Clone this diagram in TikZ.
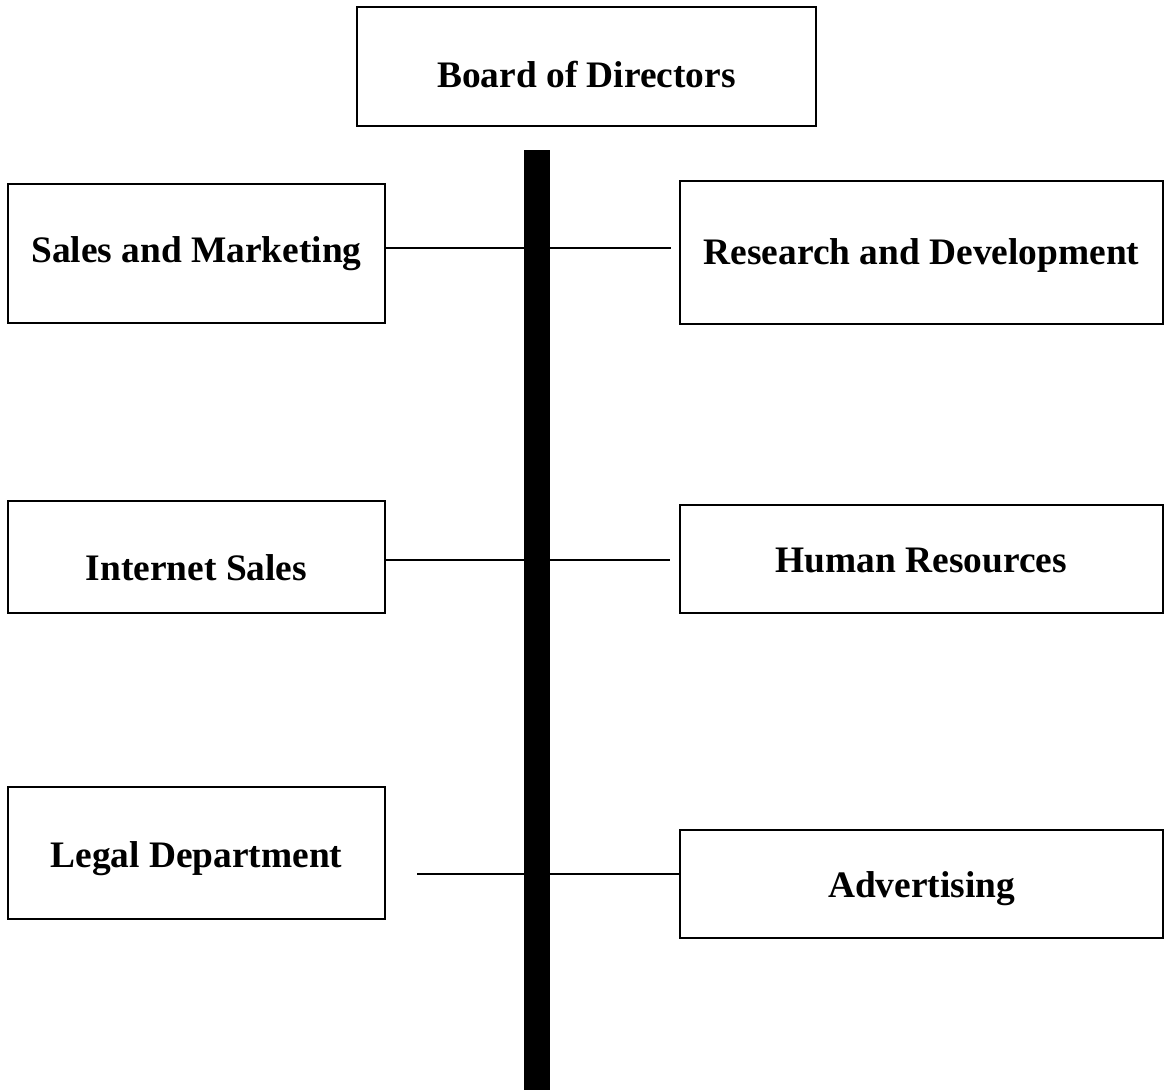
\documentclass[tikz,border=0pt]{standalone}
\usepackage{fontspec}
\setmainfont{Liberation Serif}
\usepackage{tikz}

\begin{document}
\begin{tikzpicture}[x=1pt, y=-1pt, line width=1.6pt,
	dept/.style = {draw, rectangle, inner sep=0pt, text depth=0pt, font=\bfseries\fontsize{37.4}{44}\selectfont},
	leftdept/.style = {dept, minimum width=377pt},
	rightdept/.style = {dept, minimum width=483pt}]
			\useasboundingbox (0,0) rectangle (1166,1090);
			\node (bd) at (586.5,66.5) [dept, minimum width=459pt, minimum height=119pt, text height=41pt] {Board of Directors};
			\node (sm) at (196.5,253.5) [leftdept, minimum height=139pt, text height=17pt] {Sales and Marketing};
			\node (rd) at (921.5,252.5) [rightdept, minimum height=143pt, text height=23pt] {Research and Development};
			\node (is) at (196.5,557) [leftdept, minimum height=112pt, text height=46pt] {Internet Sales};
			\node (hr) at (921.5,559) [rightdept, minimum height=108pt, text height=26pt] {Human Resources};
			\node (ld) at (196.5,853) [leftdept, minimum height=132pt, text height=28pt] {Legal Department};
			\node (ad) at (921.5,884) [rightdept, minimum height=108pt, text height=26pt] {Advertising};
			\node (spine) at (537,620) [fill, draw=none, inner sep=0pt, minimum width=26pt, minimum height=940pt] {};
			\coordinate (smEnd) at (671,248);
			\coordinate (isEnd) at (670,560);
			\coordinate (ldStart) at (417,874);
			\draw (sm.east |- smEnd) -- (smEnd);
			\draw (is.east |- isEnd) -- (isEnd);
			\draw (ldStart) -- (ad.west |- ldStart);
			\end{tikzpicture}
\end{document}
